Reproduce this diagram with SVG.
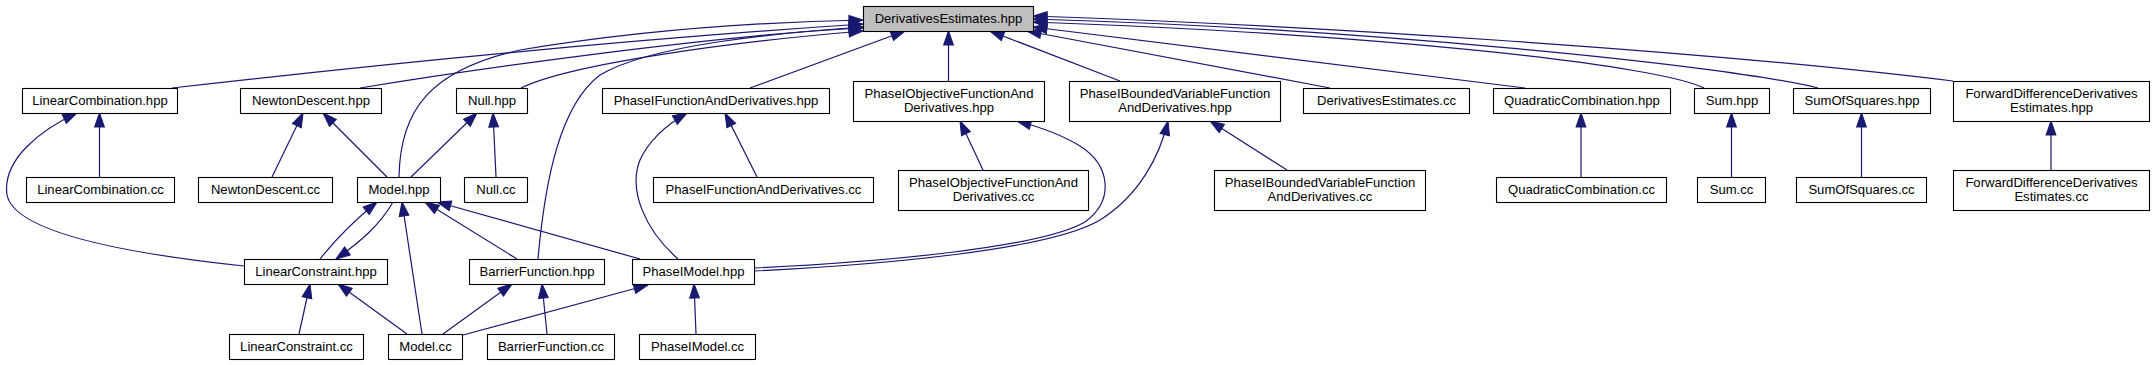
<svg xmlns="http://www.w3.org/2000/svg" width="2152" height="365" viewBox="0 0 2152 365">
<defs>
<style>
.node rect{fill:#ffffff;stroke:#000000;stroke-width:1.1}
.root rect{fill:#bfbfbf}
.node text{font-family:"Liberation Sans",Arial,Helvetica,sans-serif;font-size:13.1px;fill:#000000;text-anchor:middle}
.edges path{fill:none;stroke:#191970;stroke-width:1.2;marker-end:url(#arr)}
</style>
<marker id="arr" markerUnits="userSpaceOnUse" markerWidth="14" markerHeight="10" viewBox="0 0 13 9" refX="13" refY="4.5" orient="auto" overflow="visible">
<path d="M0,0 L13,4.5 L0,9 z" fill="#191970" stroke="#191970" stroke-width="1"/>
</marker>
</defs>
<rect width="2152" height="365" fill="#ffffff"/>
<g id="edges" class="edges">
<path d="M172,88 C400,62 650,38 863,24"/>
<path d="M360,88 C480,68 700,38 863,27"/>
<path d="M521,88 C570,64 730,42 863,31"/>
<path d="M399,177 C400,110 430,70 520,50 C640,30 760,22 863,20"/>
<path d="M538,259 C545,180 560,105 600,75 C650,45 780,32 863,28"/>
<path d="M750,88 L905,31"/>
<path d="M948.5,81 L948.5,31"/>
<path d="M1120,81 L990,31"/>
<path d="M1330,88 L1027,31"/>
<path d="M1525,88 L1033,27"/>
<path d="M1704,88 C1660,66 1400,35 1033,22"/>
<path d="M1818,88 C1720,64 1350,28 1033,19"/>
<path d="M1953,81 C1700,50 1300,25 1033,16"/>
<path d="M99.5,177 L99.5,113"/>
<path d="M244,266 C140,255 15,235 7,195 C2,160 40,130 77,113"/>
<path d="M272,177 L303,113"/>
<path d="M387,177 L323,113"/>
<path d="M411,177 L477,113"/>
<path d="M496,177 L493,113"/>
<path d="M757,177 L725,113"/>
<path d="M678,259 C645,230 628,190 640,160 C650,138 668,124 687,113"/>
<path d="M983,170 L960,121"/>
<path d="M1287,170 L1210,121"/>
<path d="M754,268 C880,262 1040,248 1085,222 C1115,200 1110,165 1080,146 C1062,135 1040,127 1017,121"/>
<path d="M754,271 C880,265 1050,250 1100,220 C1140,195 1160,155 1168,121"/>
<path d="M320,259 C335,240 355,220 377,202"/>
<path d="M393,202 C380,225 360,242 336,259"/>
<path d="M422,334 L402,202"/>
<path d="M517,259 L425,202"/>
<path d="M640,259 L437,202"/>
<path d="M299,334 L310,284"/>
<path d="M407,334 L338,284"/>
<path d="M443,334 L512,284"/>
<path d="M463,335 L648,285"/>
<path d="M547,334 L542,284"/>
<path d="M696,334 L694,284"/>
<path d="M1581,177 L1581,113"/>
<path d="M1731.5,177 L1731.5,113"/>
<path d="M1861.5,177 L1861.5,113"/>
<path d="M2051,170 L2051,121"/>
</g>
<g id="n_DerivativesEstimates_hpp" class="node root"><rect x="863.5" y="6.5" width="170" height="25"/><text x="948.5" y="23">DerivativesEstimates.hpp</text></g>
<g id="n_LinearCombination_hpp" class="node"><rect x="22.5" y="88.5" width="155" height="25"/><text x="100" y="104.5">LinearCombination.hpp</text></g>
<g id="n_NewtonDescent_hpp" class="node"><rect x="240.5" y="88.5" width="141" height="25"/><text x="311" y="104.5">NewtonDescent.hpp</text></g>
<g id="n_Null_hpp" class="node"><rect x="456.5" y="88.5" width="71" height="25"/><text x="492" y="104.5">Null.hpp</text></g>
<g id="n_PhaseIFunctionAndDerivatives_hpp" class="node"><rect x="602.5" y="88.5" width="227" height="25"/><text x="716" y="104.5">PhaseIFunctionAndDerivatives.hpp</text></g>
<g id="n_PhaseIObjectiveFunctionAndDerivatives_hpp" class="node"><rect x="853.5" y="81.5" width="191" height="40"/><text x="949" y="97.5">PhaseIObjectiveFunctionAnd</text><text x="949" y="112">Derivatives.hpp</text></g>
<g id="n_PhaseIBoundedVariableFunctionAndDerivatives_hpp" class="node"><rect x="1069.5" y="81.5" width="211" height="40"/><text x="1175" y="97.5">PhaseIBoundedVariableFunction</text><text x="1175" y="112">AndDerivatives.hpp</text></g>
<g id="n_DerivativesEstimates_cc" class="node"><rect x="1303.5" y="88.5" width="166" height="25"/><text x="1386.5" y="104.5">DerivativesEstimates.cc</text></g>
<g id="n_QuadraticCombination_hpp" class="node"><rect x="1493.5" y="88.5" width="177" height="25"/><text x="1582" y="104.5">QuadraticCombination.hpp</text></g>
<g id="n_Sum_hpp" class="node"><rect x="1694.5" y="88.5" width="75" height="25"/><text x="1732" y="104.5">Sum.hpp</text></g>
<g id="n_SumOfSquares_hpp" class="node"><rect x="1793.5" y="88.5" width="137" height="25"/><text x="1862" y="104.5">SumOfSquares.hpp</text></g>
<g id="n_ForwardDifferenceDerivativesEstimates_hpp" class="node"><rect x="1953.5" y="81.5" width="196" height="40"/><text x="2051.5" y="97.5">ForwardDifferenceDerivatives</text><text x="2051.5" y="112">Estimates.hpp</text></g>
<g id="n_LinearCombination_cc" class="node"><rect x="26.5" y="177.5" width="148" height="25"/><text x="100.5" y="193.5">LinearCombination.cc</text></g>
<g id="n_NewtonDescent_cc" class="node"><rect x="198.5" y="177.5" width="134" height="25"/><text x="265.5" y="193.5">NewtonDescent.cc</text></g>
<g id="n_Model_hpp" class="node"><rect x="357.5" y="177.5" width="83" height="25"/><text x="399" y="193.5">Model.hpp</text></g>
<g id="n_Null_cc" class="node"><rect x="464.5" y="177.5" width="63" height="25"/><text x="496" y="193.5">Null.cc</text></g>
<g id="n_PhaseIFunctionAndDerivatives_cc" class="node"><rect x="653.5" y="177.5" width="220" height="25"/><text x="763.5" y="193.5">PhaseIFunctionAndDerivatives.cc</text></g>
<g id="n_PhaseIObjectiveFunctionAndDerivatives_cc" class="node"><rect x="898.5" y="170.5" width="190" height="40"/><text x="993.5" y="186.5">PhaseIObjectiveFunctionAnd</text><text x="993.5" y="201">Derivatives.cc</text></g>
<g id="n_PhaseIBoundedVariableFunctionAndDerivatives_cc" class="node"><rect x="1214.5" y="170.5" width="211" height="40"/><text x="1320" y="186.5">PhaseIBoundedVariableFunction</text><text x="1320" y="201">AndDerivatives.cc</text></g>
<g id="n_QuadraticCombination_cc" class="node"><rect x="1496.5" y="177.5" width="170" height="25"/><text x="1581.5" y="193.5">QuadraticCombination.cc</text></g>
<g id="n_Sum_cc" class="node"><rect x="1697.5" y="177.5" width="68" height="25"/><text x="1731.5" y="193.5">Sum.cc</text></g>
<g id="n_SumOfSquares_cc" class="node"><rect x="1796.5" y="177.5" width="130" height="25"/><text x="1861.5" y="193.5">SumOfSquares.cc</text></g>
<g id="n_ForwardDifferenceDerivativesEstimates_cc" class="node"><rect x="1953.5" y="170.5" width="196" height="40"/><text x="2051.5" y="186.5">ForwardDifferenceDerivatives</text><text x="2051.5" y="201">Estimates.cc</text></g>
<g id="n_LinearConstraint_hpp" class="node"><rect x="244.5" y="259.5" width="143" height="25"/><text x="316" y="275.5">LinearConstraint.hpp</text></g>
<g id="n_BarrierFunction_hpp" class="node"><rect x="469.5" y="259.5" width="135" height="25"/><text x="537" y="275.5">BarrierFunction.hpp</text></g>
<g id="n_PhaseIModel_hpp" class="node"><rect x="632.5" y="259.5" width="122" height="25"/><text x="693.5" y="275.5">PhaseIModel.hpp</text></g>
<g id="n_LinearConstraint_cc" class="node"><rect x="229.5" y="334.5" width="134" height="25"/><text x="296.5" y="350.5">LinearConstraint.cc</text></g>
<g id="n_Model_cc" class="node"><rect x="388.5" y="334.5" width="74" height="25"/><text x="425.5" y="350.5">Model.cc</text></g>
<g id="n_BarrierFunction_cc" class="node"><rect x="487.5" y="334.5" width="127" height="25"/><text x="551" y="350.5">BarrierFunction.cc</text></g>
<g id="n_PhaseIModel_cc" class="node"><rect x="639.5" y="334.5" width="116" height="25"/><text x="697.5" y="350.5">PhaseIModel.cc</text></g>
</svg>
